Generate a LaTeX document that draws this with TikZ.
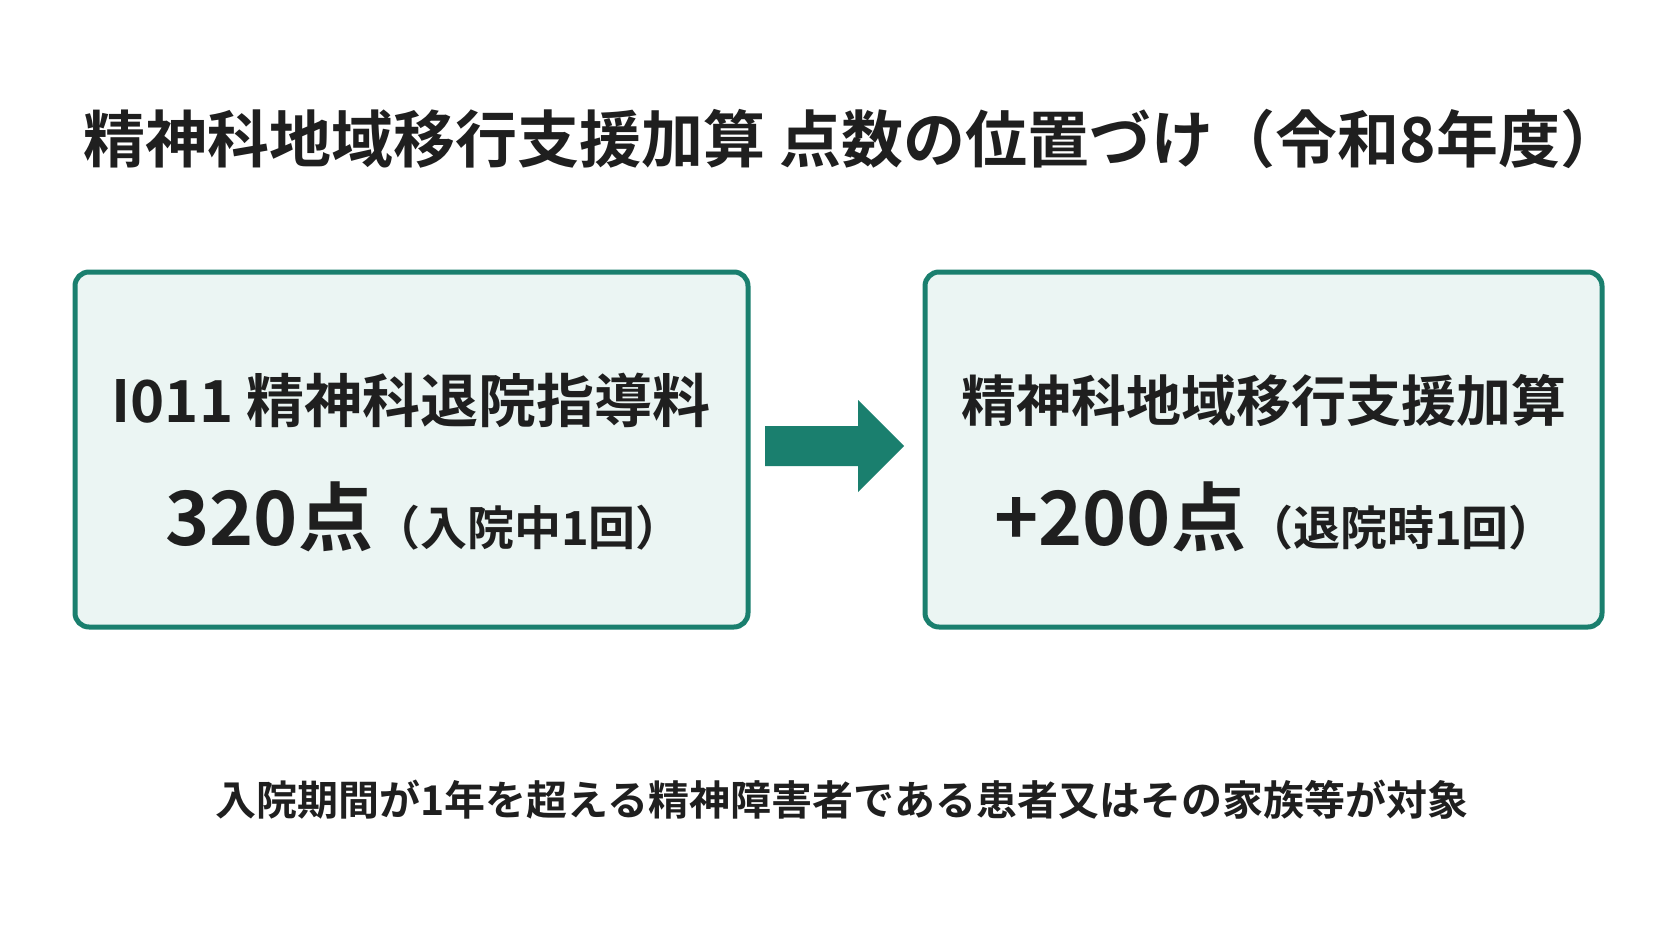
\documentclass[tikz,border=0pt]{standalone}
\usepackage{fontspec}
\setmainfont{Noto Sans CJK JP}[BoldFont={* Bold}]
\definecolor{teal1}{HTML}{1A7F6E}
\definecolor{boxfill}{HTML}{EBF5F3}
\begin{document}
\begin{tikzpicture}[x=1pt,y=-1pt,
  box/.style={draw=teal1,line width=5pt,fill=boxfill,rounded corners=14pt},
  txt/.style={font=\bfseries,text=black!88,inner sep=0pt}]
\useasboundingbox[fill=white] (0,0) rectangle (1672,941);
\node[txt,font=\fontsize{62}{70}\selectfont\bfseries] (title) at (853,139) {精神科地域移行支援加算 点数の位置づけ（令和8年度）};
\path[box] (75,272) rectangle (748,627);
\path[box] (925,272) rectangle (1602,627);
\node[txt,font=\fontsize{58}{64}\selectfont\bfseries] (l1) at (411,400) {I011 精神科退院指導料};
\node[txt] (l2) at (424,517) {{\fontsize{75}{80}\selectfont\bfseries 320点}{\fontsize{47}{55}\selectfont\bfseries（入院中1回）}};
\node[txt,font=\fontsize{55}{62}\selectfont\bfseries] (r1) at (1264,400) {精神科地域移行支援加算};
\node[txt] (r2) at (1275,517) {{\fontsize{75}{80}\selectfont\bfseries +200点}{\fontsize{47}{55}\selectfont\bfseries（退院時1回）}};
\fill[teal1] (765,426) -- (858,426) -- (858,400) -- (904,446) -- (858,492) -- (858,466) -- (765,466) -- cycle;
\node[txt,font=\fontsize{41}{48}\selectfont\bfseries] (foot) at (842,800) {入院期間が1年を超える精神障害者である患者又はその家族等が対象};
\end{tikzpicture}
\end{document}
